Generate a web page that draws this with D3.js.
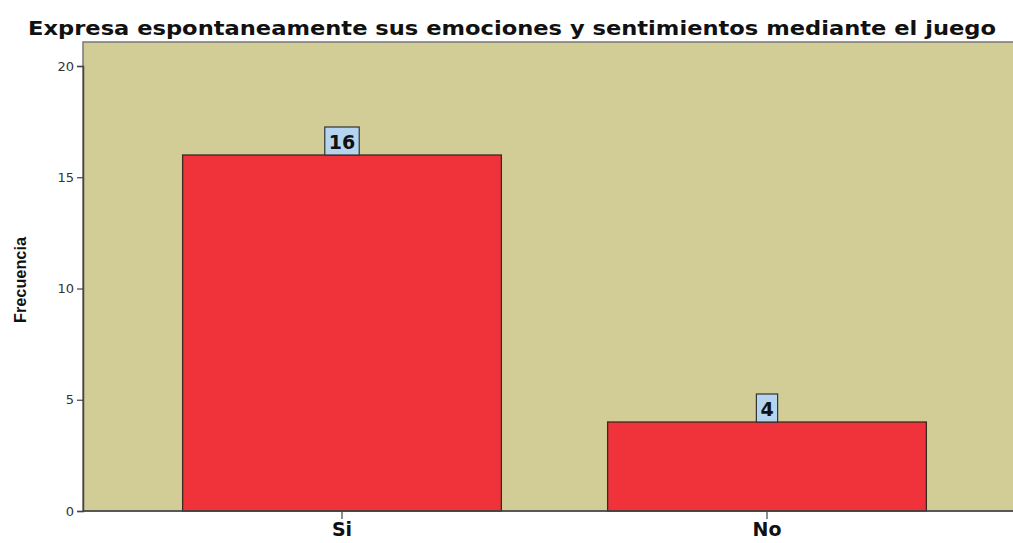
<!DOCTYPE html>
<html><head><meta charset="utf-8">
<script src="https://cdn.jsdelivr.net/npm/d3@7"></script>
<style>body{margin:0;background:#fff}svg{display:block}</style>
</head><body>
<svg id="c" width="1013" height="543"></svg>
<script>
const title = "Expresa espontaneamente sus emociones y sentimientos mediante el juego";
const categories = ["Si", "No"];
const values = [16, 4];
const yTicks = [0, 5, 10, 15, 20];
const yLabel = "Frecuencia";

(function () {
const svg = d3.select("#c");
const pLeft = 83, pTop = 42, pBottom = 511, pRight = 1030;
const wide = "DejaVu Sans, Verdana, sans-serif";

const x = d3.scaleBand().domain(categories).range([129.5, 979.5]).paddingInner(0.25).paddingOuter(0.125);
const y = d3.scaleLinear().domain([0, 20]).range([pBottom, 66]);

svg.append("rect").attr("x", pLeft).attr("y", pTop).attr("width", pRight - pLeft).attr("height", pBottom - pTop)
  .attr("fill", "#d2cd96").attr("stroke", "#777").attr("stroke-width", 1.5);

svg.append("text").attr("x", 512).attr("y", 35).attr("text-anchor", "middle")
  .attr("font-family", wide).attr("font-weight", "bold").attr("font-size", 19)
  .attr("textLength", 968).attr("lengthAdjust", "spacingAndGlyphs")
  .attr("fill", "#111").text(title);

svg.selectAll("rect.bar").data(values).join("rect").attr("class", "bar")
  .attr("x", (d, i) => x(categories[i])).attr("width", x.bandwidth())
  .attr("y", d => y(d)).attr("height", d => y(0) - y(d))
  .attr("fill", "#f0323a").attr("stroke", "#3a2a20").attr("stroke-width", 1.3);

values.forEach((v, i) => {
  const cx = x(categories[i]) + x.bandwidth() / 2;
  const g = svg.append("g");
  const t = g.append("text").attr("x", cx).attr("y", y(v) - 6).attr("text-anchor", "middle")
    .attr("font-family", wide).attr("font-weight", "bold").attr("font-size", 19)
    .attr("fill", "#111").text(v);
  const bb = t.node().getBBox();
  g.insert("rect", "text").attr("x", bb.x - 4).attr("y", y(v) - 28).attr("width", bb.width + 8).attr("height", 28)
    .attr("fill", "#b4d4f0").attr("stroke", "#333").attr("stroke-width", 1.2);
});

const yAxis = svg.append("g").attr("transform", `translate(${pLeft},0)`)
  .call(d3.axisLeft(y).tickValues(yTicks).tickSize(6).tickPadding(3));
yAxis.select(".domain").attr("stroke", "#444").attr("stroke-width", 1.5);
yAxis.selectAll(".tick line").attr("stroke", "#444").attr("stroke-width", 1.2);
yAxis.selectAll(".tick text").attr("font-family", wide).attr("font-size", 13).attr("fill", "#333");

const xAxis = svg.append("g").attr("transform", `translate(0,${pBottom})`)
  .call(d3.axisBottom(x).tickSize(8).tickPadding(4));
xAxis.select(".domain").remove();
svg.append("line").attr("x1", pLeft).attr("x2", 1013).attr("y1", pBottom).attr("y2", pBottom).attr("stroke", "#444").attr("stroke-width", 1.5);
xAxis.selectAll(".tick line").attr("stroke", "#444").attr("stroke-width", 1.2);
xAxis.selectAll(".tick text").attr("font-family", wide).attr("font-weight", "bold")
  .attr("font-size", 19).attr("fill", "#111");

svg.append("text").attr("transform", "translate(26,280) rotate(-90)").attr("text-anchor", "middle")
  .attr("font-family", "Liberation Sans Narrow, Arial Narrow, Liberation Sans, sans-serif").attr("font-weight", "bold")
  .attr("font-size", 16).attr("textLength", 86).attr("lengthAdjust", "spacingAndGlyphs")
  .attr("fill", "#111").text(yLabel);
})();
</script>
</body></html>
